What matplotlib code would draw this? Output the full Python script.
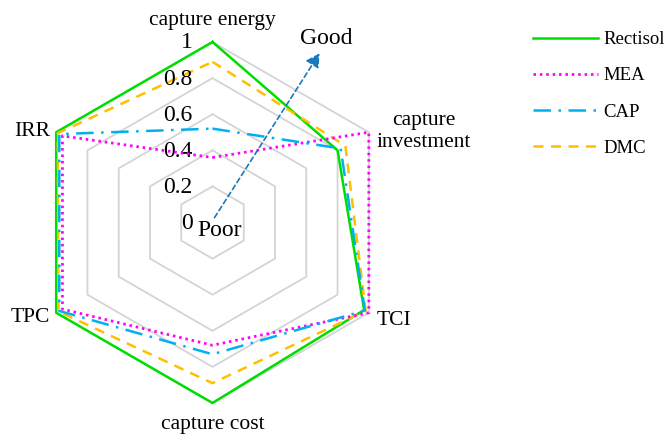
import numpy as np
import matplotlib
matplotlib.use("Agg")
import matplotlib.pyplot as plt

plt.rcParams['font.family'] = ['Liberation Serif', 'DejaVu Serif']

categories = ['capture energy', 'capture investment', 'TCI', 'capture cost', 'TPC', 'IRR']
rectisol = [1.00, 0.80, 0.97, 1.00, 1.00, 1.00]
mea = [0.36, 1.00, 1.00, 0.68, 0.96, 0.96]
cap = [0.52, 0.82, 0.975, 0.73, 0.98, 0.98]
dmc = [0.89, 0.85, 0.98, 0.89, 0.985, 0.99]
grid_levels = [0.2, 0.4, 0.6, 0.8, 1.0]
tick_labels = ['0', '0.2', '0.4', '0.6', '0.8', '1']
tick_values = [0.0, 0.2, 0.4, 0.6, 0.8, 1.0]

W, H = 667, 434
fig = plt.figure(figsize=(W / 100, H / 100), dpi=100)
cx, cy, R = 212.5, 222.5, 180.5
ax = fig.add_axes([(cx - R) / W, (H - cy - R) / H, 2 * R / W, 2 * R / H], projection='polar')
ax.set_theta_zero_location('N')
ax.set_theta_direction(-1)
ax.set_ylim(0, 1)
ax.set_axis_off()

n = len(categories)
theta = np.linspace(0, 2 * np.pi, n, endpoint=False)
th_closed = np.append(theta, theta[0])

for lv in grid_levels:
    ax.plot(th_closed, [lv] * (n + 1), color='#d4d4d4', lw=1.3, zorder=1, clip_on=False)

def closed(v):
    return list(v) + [v[0]]

fs = 15.5
fs_tick = 17
ax.plot(th_closed, closed(rectisol), color='#00dd00', lw=1.8, ls='-', label='Rectisol', zorder=3, clip_on=False)
ax.plot(th_closed, closed(mea), color='#ff00ff', lw=2.0, ls=(0, (0.9, 1.4)), label='MEA', zorder=4, clip_on=False)
ax.plot(th_closed, closed(cap), color='#00b0f0', lw=1.8, ls=(0, (7, 3, 1, 3)), label='CAP', zorder=4, clip_on=False)
ax.plot(th_closed, closed(dmc), color='#ffbf00', lw=1.8, ls=(0, (4, 3)), label='DMC', zorder=3, clip_on=False)

# tick labels along top axis
for tv, tl in zip(tick_values, tick_labels):
    ax.annotate(tl, xy=(0, tv), xytext=(-20, -1), textcoords='offset pixels',
                ha='right', va='center', fontsize=fs_tick, annotation_clip=False)

# category labels
offsets = [((0, 21), 'center', 'center'),
           ((55, 1), 'center', 'center'),
           ((8, -8), 'left', 'center'),
           ((0, -22), 'center', 'center'),
           ((-6, -5), 'right', 'center'),
           ((-6, 1), 'right', 'center')]
disp_names = ['capture energy', 'capture\ninvestment', 'TCI', 'capture cost', 'TPC', 'IRR']
for t, name, (off, ha, va) in zip(theta, disp_names, offsets):
    ax.annotate(name, xy=(t, 1.0), xytext=off, textcoords='offset pixels',
                ha=ha, va=va, fontsize=fs, multialignment='center', linespacing=1.25,
                annotation_clip=False)

# arrow Poor -> Good (figure pixel coords)
def fpx(x, y):
    return (x / W, 1 - y / H)

fig.add_artist(matplotlib.patches.FancyArrowPatch(
    fpx(213, 220), fpx(321, 51), transform=fig.transFigure,
    arrowstyle='-|>,head_length=8,head_width=4.5', mutation_scale=1,
    color='#1b78bb', lw=1.2, ls=(0, (3, 2))))
fig.text(*fpx(326, 39), 'Good', ha='center', va='center', fontsize=17)
fig.text(*fpx(220, 230), 'Poor', ha='center', va='center', fontsize=17)

leg = fig.legend(loc='upper left', bbox_to_anchor=(533 / W, 1 - 31 / H), frameon=False,
                 borderpad=0, borderaxespad=0,
                 fontsize=13.5, handlelength=3.45, handletextpad=0.32, labelspacing=1.02)

fig.savefig('out.png', dpi=100)
